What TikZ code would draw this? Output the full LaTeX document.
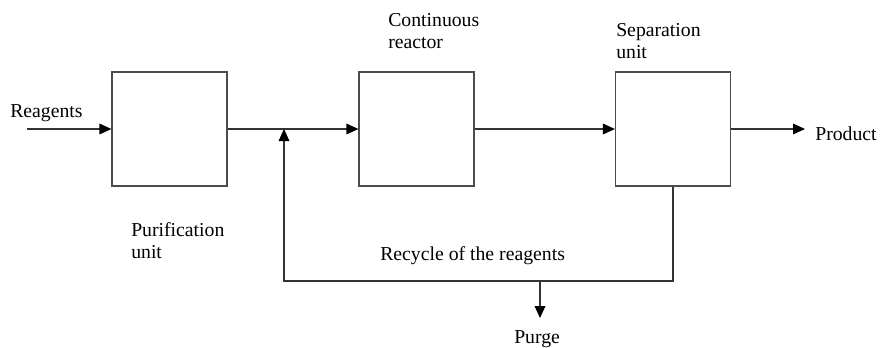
\documentclass[tikz,border=0pt]{standalone}
\usepackage{fontspec}
\setmainfont{Liberation Serif}
\usetikzlibrary{arrows.meta}
\tikzset{
  unitbox/.style={draw=black!70, line width=0.9pt, minimum width=115*0.75pt, minimum height=114*0.75pt, inner sep=0pt},
  flow/.style={draw=black!80, line width=0.9pt},
  flowarrow/.style={flow, -{Triangle[length=9pt,width=8pt,color=black]}},
  lbl/.style={font=\fontsize{14.8}{16.3}\selectfont, inner sep=0pt, align=left, anchor=base west}
}
\begin{document}
\begin{tikzpicture}[x=0.75pt,y=-0.75pt]
\useasboundingbox (0,0) rectangle (881,347);
% units
\node[unitbox] (pur) at (169.5,129) {};
\node[unitbox] (reac) at (416.5,129) {};
\node[unitbox] (sep) at (673,129) {};
% coordinates
\coordinate (rin) at (27,129);
\coordinate (j) at (284,129);
\coordinate (c1) at (284,281);
\coordinate (pg) at (540,281);
\coordinate (pgend) at (540,318);
\coordinate (prodend) at (805,129);
% connectors
\draw[flowarrow] (rin) -- (pur.west);
\draw[flowarrow] (pur.east) -- (reac.west);
\draw[flowarrow] (reac.east) -- (sep.west);
\draw[flowarrow] (sep.east) -- (prodend);
\draw[flowarrow] (sep.south) |- (c1) -- (j);
\draw[flowarrow] (pg) -- (pgend);
% labels
\node[lbl] (treag) at (10,117) {Reagents};
\node[lbl] (tprod) at (815,140) {Product};
\node[lbl] (treac) at (388,48) {Continuous\\reactor};
\node[lbl] (tsep) at (616,58) {Separation\\unit};
\node[lbl] (tpur) at (131,258) {Purification\\unit};
\node[lbl] (trec) at (380,260) {Recycle of the reagents};
\node[lbl] (tpurge) at (514,343) {Purge};
\end{tikzpicture}
\end{document}
